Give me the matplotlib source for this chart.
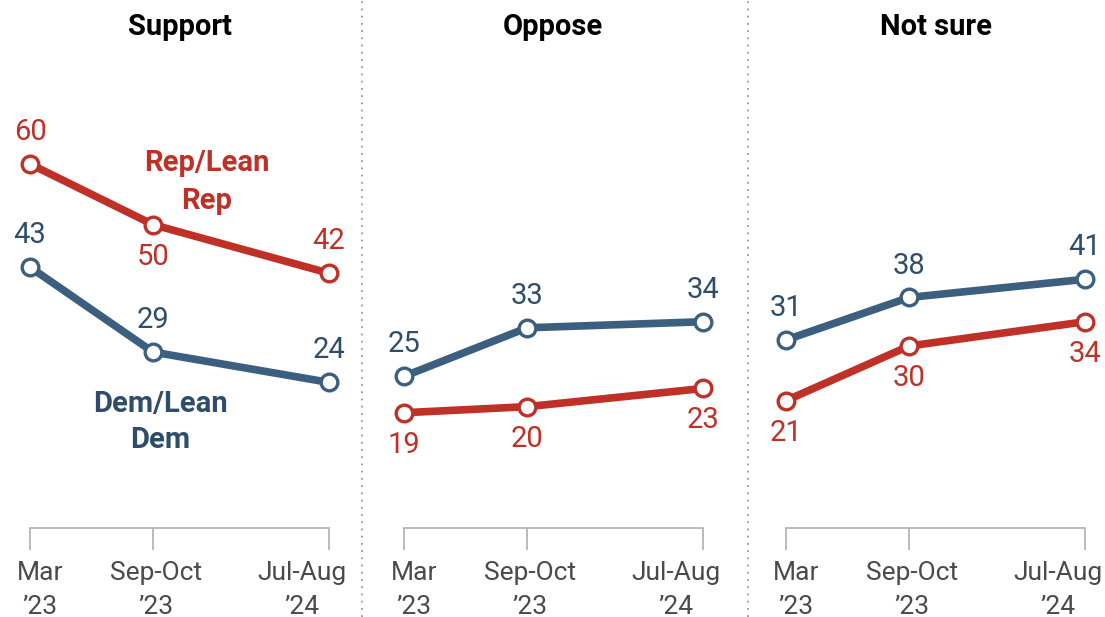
import matplotlib
matplotlib.use("Agg")
import matplotlib.pyplot as plt
from matplotlib.lines import Line2D
from matplotlib.transforms import ScaledTranslation

plt.rcParams['font.family'] = ['Roboto', 'DejaVu Sans']

# months since Mar 2023 for the three survey waves
waves = [0, 7, 17]
wave_labels = ["Mar\n\u201923", "Sep-Oct\n\u201923", "Jul-Aug\n\u201924"]
panels = ["Support", "Oppose", "Not sure"]

rep_support = [60, 50, 42]
dem_support = [43, 29, 24]
rep_oppose = [19, 20, 23]
dem_oppose = [25, 33, 34]
rep_notsure = [21, 30, 34]
dem_notsure = [31, 38, 41]

rep_vals = [rep_support, rep_oppose, rep_notsure]
dem_vals = [dem_support, dem_oppose, dem_notsure]
# label above (+1) or below (-1) each point
rep_side = [[1, -1, 1], [-1, -1, -1], [-1, -1, -1]]
dem_side = [[1, 1, 1], [1, 1, 1], [1, 1, 1]]

RED = "#bf3127"
BLUE = "#3c5f80"
BLUE_TXT = "#2f4d6a"
GRAY = "#b5b5b5"

W, H = 1105, 617
fig = plt.figure(figsize=(W / 100, H / 100), dpi=100)

lefts = [30, 404, 786]
width = 299
base_y = 528
top_y = 164
title_x = [180, 553, 936]
label_shift = [10, 3, -27]  # px shift of tick labels

for i, left in enumerate(lefts):
    ax = fig.add_axes([left / W, (H - base_y) / H, width / W, (base_y - top_y) / H])
    ax.set_xlim(waves[0], waves[-1])
    ax.set_ylim(0, 60)
    for s in ["top", "right", "left"]:
        ax.spines[s].set_visible(False)
    ax.spines["bottom"].set_color(GRAY)
    ax.spines["bottom"].set_linewidth(1.3)
    ax.set_yticks([])
    ax.set_xticks(waves)
    ax.set_xticklabels(wave_labels, fontsize=19, color="#4a4a4a", linespacing=1.5)
    ax.tick_params(axis="x", length=16, width=1.3, color=GRAY, pad=8)
    for lab, dx in zip(ax.get_xticklabels(), label_shift):
        lab.set_transform(lab.get_transform() + ScaledTranslation(dx / 100, 0, fig.dpi_scale_trans))

    for vals, side, col, tcol in [(dem_vals[i], dem_side[i], BLUE, BLUE_TXT),
                                  (rep_vals[i], rep_side[i], RED, RED)]:
        ax.plot(waves, vals, color=col, lw=5.5, marker="o", markersize=12,
                markerfacecolor="white", markeredgecolor=col, markeredgewidth=2.4,
                clip_on=False, zorder=3)
        for x, v, s in zip(waves, vals, side):
            ax.annotate(str(v), (x, v), xytext=(0, 23 * s), textcoords="offset points",
                        ha="center", va="center", fontsize=21, color=tcol)

    fig.text(title_x[i] / W, 1 - 27 / H, panels[i], ha="center", va="center",
             fontsize=21, fontweight="bold")

fig.text(207 / W, 1 - 182 / H, "Rep/Lean\nRep", ha="center", va="center", fontsize=21,
         fontweight="bold", color=RED, linespacing=1.45)
fig.text(160 / W, 1 - 422 / H, "Dem/Lean\nDem", ha="center", va="center", fontsize=21,
         fontweight="bold", color=BLUE_TXT, linespacing=1.4)

for xs in [362, 748]:
    fig.add_artist(Line2D([xs / W, xs / W], [0, 1], transform=fig.transFigure,
                          color="#999999", lw=1.3, linestyle=(0, (1, 3))))

fig.savefig("out.png", dpi=100, facecolor="white")
